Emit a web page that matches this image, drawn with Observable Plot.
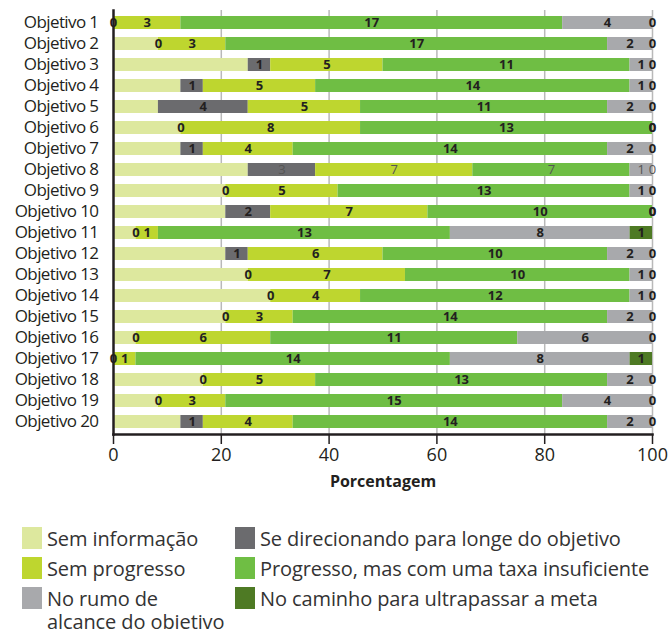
<!DOCTYPE html>
<html><head><meta charset="utf-8">
<script src="https://cdn.jsdelivr.net/npm/d3@7"></script>
<script src="https://cdn.jsdelivr.net/npm/@observablehq/plot@0.6"></script>
<style>
body{margin:0;background:#fff;font-family:"Open Sans",sans-serif;}
#chart svg{display:block}
g[aria-label="y-axis tick label"] text{letter-spacing:-0.6px}
.legend{display:grid;grid-template-columns:213px auto;row-gap:7px;margin-left:22px;padding-top:27px;font-size:20px;color:#333;line-height:23px;white-space:nowrap;letter-spacing:-0.1px}
.item{display:flex;align-items:flex-start}
.sw{width:20px;height:22px;margin-right:5px;flex:none}
</style></head><body>
<div id="chart"></div>
<div class="legend" id="legend"></div>
<script>
const objetivos = ["Objetivo 1","Objetivo 2","Objetivo 3","Objetivo 4","Objetivo 5","Objetivo 6","Objetivo 7","Objetivo 8","Objetivo 9","Objetivo 10","Objetivo 11","Objetivo 12","Objetivo 13","Objetivo 14","Objetivo 15","Objetivo 16","Objetivo 17","Objetivo 18","Objetivo 19","Objetivo 20"];
const categorias = ["Sem informação","Se direcionando para longe do objetivo","Sem progresso","Progresso, mas com uma taxa insuficiente","No rumo de alcance do objetivo","No caminho para ultrapassar a meta"];
const legendaTextos = ["Sem informação","Se direcionando para longe do objetivo","Sem progresso","Progresso, mas com uma taxa insuficiente","No rumo de<br>alcance do objetivo","No caminho para ultrapassar a meta"];
const cores = ["#dde89e","#6b6b6e","#bed62f","#6fbe44","#a8a9ac","#4e7a24"];
const semInformacao  = [0,2,6,3,2,3,3,6,5,5,1,5,6,7,5,1,0,4,2,3];
const seDirecionando = [0,0,1,1,4,0,1,3,0,2,0,1,0,0,0,0,0,0,0,1];
const semProgresso   = [3,3,5,5,5,8,4,7,5,7,1,6,7,4,3,6,1,5,3,4];
const progressoInsuf = [17,17,11,14,11,13,14,7,13,10,13,10,10,12,14,11,14,13,15,14];
const noRumo         = [4,2,1,1,2,0,2,1,1,0,8,2,1,1,2,6,8,2,4,2];
const ultrapassar    = [0,0,0,0,0,0,0,0,0,0,1,0,0,0,0,0,1,0,0,0];
const xTicks = [0,20,40,60,80,100];
const rotulosClaros = ["Objetivo 8"];

const series = [semInformacao, seDirecionando, semProgresso, progressoInsuf, noRumo, ultrapassar];
const data = [];
objetivos.forEach((obj, i) => {
  const total = series.reduce((s, arr) => s + arr[i], 0);
  categorias.forEach((cat, j) => {
    data.push({obj, cat, count: series[j][i], pct: series[j][i] / total * 100});
  });
});

const labelText = d => d.cat === categorias[0] ? "" : String(d.count);

const chart = Plot.plot({
  width: 668,
  height: 500,
  marginLeft: 113,
  marginRight: 16,
  marginTop: 10,
  marginBottom: 66,
  style: {fontFamily: "'Open Sans', sans-serif", color: "#231f20", background: "#fff"},
  x: {domain: [0, 100]},
  y: {domain: objetivos, paddingInner: 0.38, paddingOuter: 0.26},
  color: {domain: categorias, range: cores},
  marks: [
    Plot.gridX([20,40,60,80,100], {stroke: "#b9b9b9", strokeOpacity: 1, strokeWidth: 1.5}),
    Plot.barX(data, Plot.stackX({x: "pct", y: "obj", fill: "cat", order: categorias})),
    Plot.text(data, Plot.stackX({x: "pct", y: "obj", z: "cat", order: categorias, text: labelText,
      filter: d => !rotulosClaros.includes(d.obj), fontSize: 13, fontWeight: "bold", fill: "#231f20"})),
    Plot.text(data, Plot.stackX({x: "pct", y: "obj", z: "cat", order: categorias, text: labelText,
      filter: d => rotulosClaros.includes(d.obj), fontSize: 13, fontWeight: "normal", fill: "#555"})),
    Plot.frame({anchor: "left", stroke: "#231f20", strokeWidth: 2.5}),
    Plot.frame({anchor: "bottom", stroke: "#231f20", strokeWidth: 2.5}),
    Plot.axisY({tickSize: 0, tickPadding: 15, fontSize: 17, label: null, fill: "#231f20"}),
    Plot.axisX({ticks: xTicks, tickSize: 10, tickPadding: 4, fontSize: 18, label: null, stroke: "#231f20", strokeWidth: 1.5, fill: "#231f20"}),
    Plot.text(["Porcentagem"], {frameAnchor: "bottom", dy: 52, fontSize: 16, fontWeight: "bold", fill: "#231f20"})
  ]
});
document.getElementById("chart").appendChild(chart);

const legend = document.getElementById("legend");
categorias.forEach((c, i) => {
  const item = document.createElement("div");
  item.className = "item";
  item.innerHTML = `<span class="sw" style="background:${cores[i]}"></span><span>${legendaTextos[i]}</span>`;
  legend.appendChild(item);
});
</script>
</body></html>
